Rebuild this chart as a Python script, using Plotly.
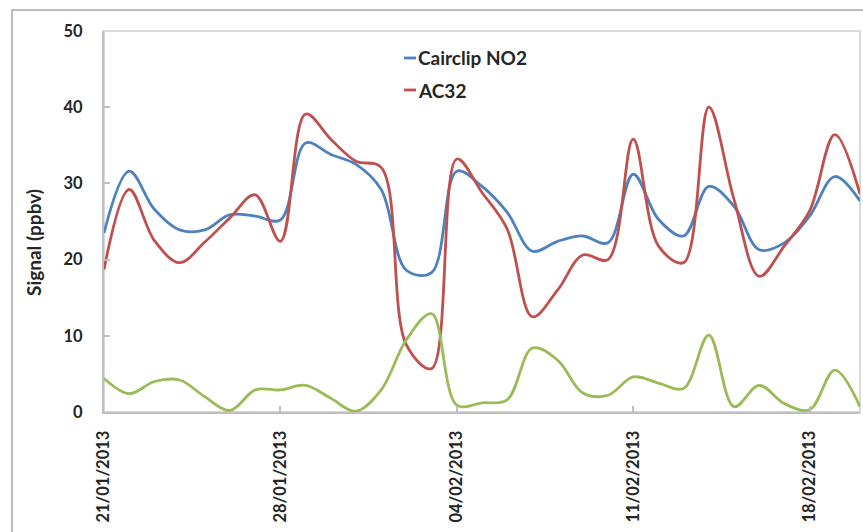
import plotly.graph_objects as go

# Daily observation dates
dates = [
    "2013-01-21", "2013-01-22", "2013-01-23", "2013-01-24", "2013-01-25",
    "2013-01-26", "2013-01-27", "2013-01-28", "2013-01-29", "2013-01-30",
    "2013-01-31", "2013-02-01", "2013-02-02", "2013-02-03", "2013-02-04",
    "2013-02-05", "2013-02-06", "2013-02-07", "2013-02-08", "2013-02-09",
    "2013-02-10", "2013-02-11", "2013-02-12", "2013-02-13", "2013-02-14",
    "2013-02-15", "2013-02-16", "2013-02-17", "2013-02-18", "2013-02-19",
    "2013-02-20",
]

# Signal (ppbv)
cairclip_no2 = [23.5, 31.6, 26.6, 23.9, 23.9, 25.9, 25.7, 25.2, 35.3, 33.8,
                32.5, 29.2, 18.6, 18.3, 31.6, 29.6, 26.2, 21.1, 22.4, 23.1,
                22.2, 31.2, 25.3, 23.1, 29.6, 27.0, 21.3, 22.2, 25.7, 30.9,
                27.7]
ac32 = [18.7, 29.2, 22.5, 19.6, 22.3, 25.5, 28.5, 22.4, 39.1, 35.8,
        32.9, 32.1, 8.8, 5.7, 33.2, 28.8, 24.0, 12.5, 16.0, 20.6,
        20.0, 35.8, 21.8, 19.6, 40.0, 27.9, 17.8, 21.8, 26.4, 36.4,
        28.6]
abs_diff = [4.4, 2.4, 4.0, 4.2, 2.0, 0.2, 2.9, 2.9, 3.5, 1.8,
            0.1, 2.9, 9.5, 12.9, 0.9, 1.2, 1.6, 8.4, 6.8, 2.5,
            2.2, 4.6, 3.8, 3.1, 10.1, 0.7, 3.5, 1.1, 0.3, 5.5,
            0.7]

tick_dates = ["2013-01-21", "2013-01-28", "2013-02-04", "2013-02-11", "2013-02-18"]
tick_labels = ["21/01/2013", "28/01/2013", "04/02/2013", "11/02/2013", "18/02/2013"]
y_ticks = [0, 10, 20, 30, 40, 50]

BLUE = "#4F81BD"
RED = "#C0504D"
GREEN = "#9BBB59"
FONT = "Lato"
TEXT = "#262626"
AXIS = "#BFBFBF"

fig = go.Figure()
for name, ys, col in [("Cairclip NO2", cairclip_no2, BLUE),
                      ("AC32", ac32, RED),
                      ("Difference", abs_diff, GREEN)]:
    fig.add_trace(go.Scatter(
        x=dates, y=ys, name=name, mode="lines",
        line=dict(color=col, width=2.8, shape="spline", smoothing=1.0),
        showlegend=False,
    ))

W, H = 863, 532
L, R, T, B = 104, 3, 31, 120
pw, ph = W - L - R, H - T - B


def px_x(x):
    return (x - L) / pw


def px_y(y):
    return (H - B - y) / ph


tick_font = dict(family=FONT, size=16.5, weight="bold", color=TEXT)

fig.update_layout(
    width=W, height=H,
    margin=dict(l=L, r=R, t=T, b=B, pad=0),
    paper_bgcolor="white", plot_bgcolor="white",
    font=dict(family=FONT, color=TEXT),
    xaxis=dict(
        type="date", range=["2013-01-21", "2013-02-20"],
        tickmode="array", tickvals=tick_dates, ticktext=tick_labels,
        tickangle=-90, showgrid=False, zeroline=False,
        showline=True, linecolor=AXIS, linewidth=2,
        ticks="inside", ticklen=6, tickcolor=AXIS, tickwidth=1.5,
        tickfont=tick_font, ticklabelstandoff=10,
    ),
    yaxis=dict(
        range=[0, 50], tickmode="array", tickvals=y_ticks,
        showgrid=False, zeroline=False,
        showline=True, linecolor=AXIS, linewidth=2,
        ticks="inside", ticklen=6, tickcolor=AXIS, tickwidth=1.5,
        tickfont=tick_font, ticklabelstandoff=16,
    ),
)

shapes = [
    # plot-area border
    dict(type="rect", xref="paper", yref="paper", x0=0, x1=1, y0=0, y1=1,
         line=dict(color="#D9D9D9", width=2), layer="below"),
    # chart-area frame
    dict(type="rect", xref="paper", yref="paper",
         x0=px_x(12), x1=px_x(900), y0=px_y(600), y1=px_y(10),
         line=dict(color="#A6A6A6", width=1.5), layer="below"),
    # legend keys
    dict(type="line", xref="paper", yref="paper",
         x0=px_x(404), x1=px_x(416), y0=px_y(58), y1=px_y(58),
         line=dict(color=BLUE, width=2.8)),
    dict(type="line", xref="paper", yref="paper",
         x0=px_x(404), x1=px_x(416), y0=px_y(90), y1=px_y(90),
         line=dict(color=RED, width=2.8)),
]
fig.update_layout(shapes=shapes)

legend_font = dict(family=FONT, size=19, weight="bold", color=TEXT)
annotations = [
    dict(text="Cairclip NO2", xref="paper", yref="paper",
         x=px_x(416), y=px_y(58), xanchor="left", yanchor="middle",
         showarrow=False, font=legend_font),
    dict(text="AC32", xref="paper", yref="paper",
         x=px_x(416), y=px_y(90), xanchor="left", yanchor="middle",
         showarrow=False, font=legend_font),
    dict(text="Signal (ppbv)", xref="paper", yref="paper",
         x=px_x(33), y=px_y(243), xanchor="center", yanchor="middle",
         textangle=-90, showarrow=False,
         font=dict(family=FONT, size=19, weight="bold", color=TEXT)),
]
fig.update_layout(annotations=annotations)

fig.write_html("out.html")
